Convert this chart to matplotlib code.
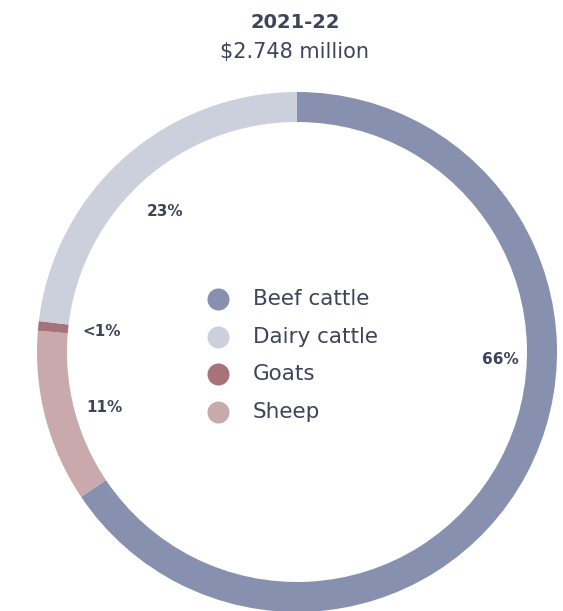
import matplotlib
matplotlib.use("Agg")
import matplotlib.pyplot as plt

# Data (clockwise from 12 o'clock)
categories = ["Beef cattle", "Sheep", "Goats", "Dairy cattle"]
shares = [65.6, 10.7, 0.6, 23.1]
pct_labels = ["66%", "11%", "<1%", "23%"]
colors = ["#8790AF", "#C9A9AB", "#A6737B", "#CBD0DC"]

legend_order = ["Beef cattle", "Dairy cattle", "Goats", "Sheep"]
title = "2021-22"
subtitle = "$2.748 million"

W, H = 563, 611
TXT = "#3D4559"
FONT = ["DejaVu Sans"]

fig = plt.figure(figsize=(W / 100, H / 100), dpi=100)
ax = fig.add_axes([0, 0, 1, 1])

def py(y):  # pixel-from-top -> data y
    return H - y

cx, cy, R, ring = 297, 352, 260, 30
ax.pie(shares, colors=colors, startangle=90, counterclock=False,
       center=(cx, py(cy)), radius=R,
       wedgeprops=dict(width=ring, linewidth=0))

# percentage labels
label_pos = {"66%": (500, 359), "11%": (104, 407), "<1%": (102, 331), "23%": (165, 211)}
for lab in pct_labels:
    x, y = label_pos[lab]
    ax.text(x, py(y), lab, ha="center", va="center", fontsize=11,
            fontweight="bold", color=TXT, family=FONT)

# title
ax.text(295, py(22), title, ha="center", va="center", fontsize=14,
        fontweight="bold", color=TXT, family=FONT)
ax.text(295, py(52), subtitle, ha="center", va="center", fontsize=15,
        color=TXT, family=FONT)

# legend
col_of = dict(zip(categories, colors))
for i, cat in enumerate(legend_order):
    y = 299 + i * 37.7
    ax.scatter([218], [py(y)], s=(22 / 1.389) ** 2, color=col_of[cat], linewidths=0)
    ax.text(253, py(y), cat, ha="left", va="center", fontsize=15.5,
            color=TXT, family=FONT)

ax.set_xlim(0, W)
ax.set_ylim(0, H)
ax.set_aspect("equal", adjustable="box")
ax.axis("off")

fig.savefig("out.png", dpi=100, facecolor="white")
